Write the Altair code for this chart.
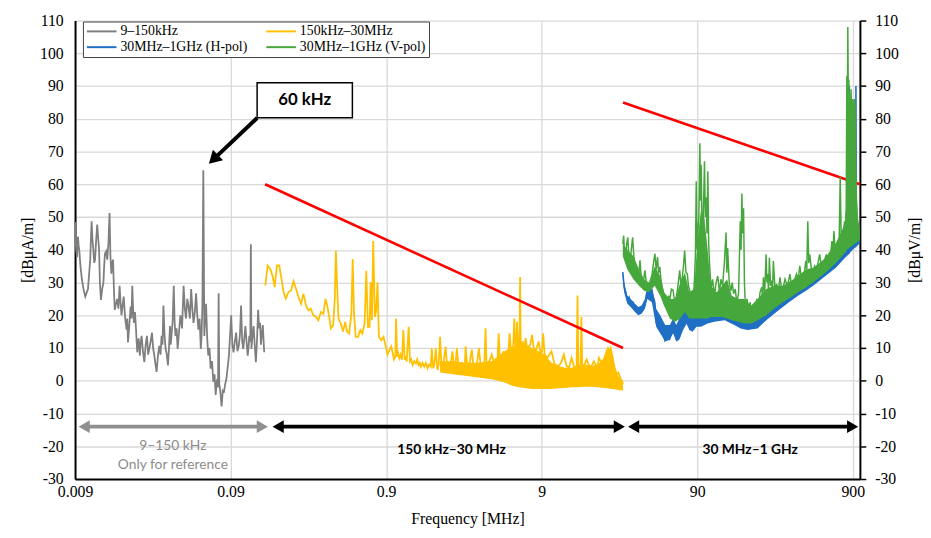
import altair as alt
import pandas as pd

# ---------------- series names / colours (legend order: column-major) ----------------
SERIES = ["9–150kHz", "30MHz–1GHz (H-pol)", "150kHz–30MHz", "30MHz–1GHz (V-pol)"]
COLORS = ["#7f7f7f", "#1f6fc5", "#ffc000", "#46a83c"]
GRAY, BLUE, YELLOW, GREEN = COLORS

# ---------------- 9–150 kHz (grey): (kHz, dB) ----------------
gray_pts = [
    (9.0, 48.5), (9.04, 43.7), (9.15, 40.0), (9.27, 37.7), (9.4, 44.0), (9.5, 41.0), (9.58, 40.0),
    (9.75, 35.0), (9.96, 31.0), (10.2, 28.0), (10.47, 25.7), (10.7, 27.0), (10.9, 28.0),
    (11.1, 33.0), (11.27, 37.0), (11.4, 44.0), (11.5, 48.7), (11.65, 43.0), (11.8, 40.0),
    (11.95, 36.0), (12.1, 37.0), (12.3, 43.0), (12.5, 47.7), (12.65, 44.0), (12.85, 40.0),
    (13.0, 30.0), (13.2, 24.7), (13.45, 28.0), (13.7, 30.0), (13.85, 35.0), (14.0, 38.7),
    (14.25, 39.5), (14.5, 37.0), (14.75, 42.0), (15.0, 51.2), (15.2, 38.0), (15.4, 32.7),
    (15.6, 36.0), (15.8, 37.0), (16.0, 28.0), (16.2, 21.7), (16.5, 23.5), (16.8, 25.0),
    (17.1, 22.0), (17.4, 29.0), (17.65, 24.0), (17.9, 20.0), (18.2, 23.0), (18.5, 25.7),
    (18.9, 19.0), (19.3, 15.6), (19.5, 19.0), (19.7, 11.7), (20.1, 17.0), (20.5, 22.7),
    (20.75, 19.0), (21.0, 29.0), (21.25, 22.0), (21.5, 17.7), (21.85, 21.0), (22.2, 15.6),
    (22.4, 12.0), (22.6, 8.7), (23.05, 13.0), (23.5, 7.7), (23.8, 12.0), (24.1, 13.7),
    (24.6, 9.0), (25.1, 5.7), (25.6, 11.0), (26.1, 13.7), (26.55, 8.0), (27.0, 9.7),
    (27.55, 12.0), (28.1, 14.7), (28.6, 10.0), (29.1, 7.7), (29.6, 5.0), (30.1, 2.7),
    (30.75, 8.0), (31.4, 10.7), (31.9, 8.0), (32.4, 13.7), (32.85, 11.0), (33.3, 23.0),
    (33.85, 14.0), (34.4, 9.7), (35.0, 8.0), (35.6, 4.7), (36.15, 10.0), (36.7, 16.7),
    (37.1, 11.0), (37.5, 13.7), (38.15, 18.0), (38.8, 29.0), (39.3, 18.0), (39.8, 13.7),
    (40.45, 16.0), (41.1, 9.7), (41.95, 15.0), (42.8, 20.0), (43.85, 16.0), (44.9, 29.0),
    (45.7, 22.0), (46.5, 19.0), (47.4, 25.0), (48.3, 22.7), (49.25, 19.0), (50.2, 28.0),
    (51.1, 22.0), (52.0, 17.7), (53.0, 21.0), (54.0, 26.7), (54.95, 20.0), (55.9, 15.6),
    (56.9, 19.0), (57.9, 9.7), (58.6, 14.0), (59.3, 23.5), (60.1, 64.3), (61.0, 13.7),
    (61.8, 19.0), (62.6, 23.5), (63.65, 13.0), (64.7, 7.7), (65.85, 10.0), (67.0, 3.7),
    (68.35, 6.0), (69.7, -0.3), (70.95, 2.0), (72.2, -4.3), (73.05, -1.0), (73.9, 0.6),
    (74.7, -2.0), (75.4, 26.7), (76.1, -1.0), (76.9, -2.3), (77.85, -5.0), (78.8, -7.8),
    (80.2, -3.0), (81.6, -3.3), (83.1, -1.0), (84.6, 0.6), (86.2, 4.0), (87.8, 7.7),
    (89.3, 14.0), (90.8, 20.0), (92.4, 11.0), (94.0, 8.7), (95.85, 12.0), (97.7, 14.7),
    (99.6, 9.0), (101.6, 10.7), (103.35, 14.0), (105.1, 23.0), (106.85, 12.0), (108.6, 9.7),
    (110.3, 13.0), (112.0, 16.7), (114.0, 12.0), (115.9, 7.7), (117.3, 10.0), (118.7, 13.7),
    (120.5, 12.0), (121.5, 41.7), (122.5, 9.7), (124.0, 13.0), (126.5, 16.7), (128.6, 11.0),
    (130.8, 5.7), (133.0, 12.0), (135.3, 21.7), (137.3, 16.0), (139.3, 17.7), (141.0, 11.0),
    (142.6, 13.7), (145.0, 17.0), (148.0, 8.7)]

# ---------------- 150 kHz–30 MHz (yellow): (MHz, dB) ----------------
yellow_mhz = [0.1505, 0.1558, 0.162, 0.1685, 0.1727, 0.1788, 0.185, 0.1905, 0.197, 0.204, 0.2121,
              0.2206, 0.2283, 0.2374, 0.2457, 0.2555, 0.2644, 0.275, 0.2846, 0.2946, 0.3064, 0.3186,
              0.3298, 0.343, 0.355, 0.3675, 0.378, 0.3875, 0.397, 0.411, 0.4211, 0.4274, 0.4359,
              0.4445, 0.46, 0.476, 0.4902, 0.505, 0.52, 0.538, 0.5486, 0.5595, 0.5735, 0.5935,
              0.614, 0.6324, 0.6545, 0.6707, 0.6874, 0.7043, 0.7149, 0.729, 0.7434, 0.7618, 0.7769,
              0.7924, 0.8081, 0.8363, 0.8654, 0.9, 0.92, 0.945, 0.97, 0.993, 1.01, 1.032, 1.042,
              1.058, 1.075, 1.095, 1.115, 1.138, 1.161, 1.184, 1.2, 1.22, 1.256, 1.281, 1.305,
              1.332, 1.365, 1.399, 1.425, 1.454, 1.48, 1.505, 1.54, 1.581, 1.62, 1.66, 1.70,
              1.744, 1.769, 1.805, 1.84, 1.877, 1.923, 1.96, 2.0, 2.04,
              2.1, 2.17, 2.22, 2.35, 2.4, 2.46, 2.52, 2.56, 2.62, 2.75, 2.88, 2.92, 2.98, 3.1,
              3.2, 3.28, 3.45, 3.55, 3.65, 3.85, 3.92, 3.98, 4.15, 4.3, 4.45, 4.68, 4.76, 4.85,
              5.0, 5.1, 5.25, 5.5, 5.6, 5.72, 5.9, 6.0, 6.1, 6.2, 6.25, 6.35, 6.48, 6.54, 6.6,
              6.8, 6.95, 7.1, 7.25, 7.6, 7.8, 8.0, 8.3, 8.6, 8.85, 9.05, 9.2, 9.4, 9.8, 10.4,
              10.9, 11.5, 12.0, 12.5, 13.0, 13.5, 14.0, 14.6, 15.1, 15.3, 15.5, 16.0, 16.2, 16.4,
              17.0, 17.5, 18.2, 18.8, 19.5, 20.2, 20.7, 21.0, 21.8, 22.8, 23.5, 24.0, 24.5, 25.0,
              25.5, 26.5, 27.3, 28.0, 29.0, 30.0]
yellow_db = [29.1, 35.2, 34.1, 31.6, 28.6, 35.2, 35.2, 31.6, 27.1, 25.1, 27.1,
             27.6, 30.4, 28.0, 25.6, 23.5, 26.6, 23.0, 21.5, 22.0, 20.0, 19.5,
             18.5, 21.0, 20.5, 25.0, 22.5, 19.5, 16.0, 17.0, 25.5, 39.7, 28.6,
             19.0, 17.5, 15.0, 18.0, 15.0, 14.4, 20.5, 37.2, 20.5, 13.4, 13.4,
             15.5, 14.4, 17.5, 33.6, 16.5, 16.5, 30.1, 18.5, 42.7, 19.5, 21.5,
             30.1, 13.4, 12.4, 13.4, 9.9, 8.0, 9.4, 10.5, 8.4, 6.5, 7.4, 19.0,
             7.4, 8.5, 6.9, 8.0, 6.4, 15.5, 6.4, 7.5, 5.9, 16.5, 5.9, 6.5,
             4.8, 6.0, 5.3, 6.5, 4.8, 5.5, 4.3, 5.5, 4.3, 5.5, 3.8, 5.0,
             4.3, 9.9, 3.8, 5.0, 9.9, 3.3, 5.0, 13.4, 4.3,
             5.0, 10.4, 4.5, 5.5, 9.0, 4.5, 5.5, 10.0, 5.0, 5.5, 4.5, 10.5, 5.0, 5.5,
             9.5, 4.0, 5.0, 10.0, 4.5, 5.0, 16.0, 5.0, 6.0, 8.0, 5.5, 6.0, 14.5, 5.5,
             7.0, 9.0, 7.0, 8.5, 14.5, 9.0, 10.0, 19.0, 10.5, 9.5, 18.0, 10.0, 10.5, 31.7, 10.0,
             12.0, 9.5, 13.0, 10.0, 11.0, 14.0, 10.0, 9.5, 12.0, 8.5, 9.0, 14.5, 8.0, 7.0, 9.0,
             5.0, 4.5, 5.5, 8.0, 4.5, 4.0, 7.0, 4.0, 4.5, 26.0, 4.5, 4.5, 19.5, 4.5,
             5.0, 6.5, 4.5, 4.5, 6.0, 4.5, 5.0, 7.0, 5.5, 7.0, 9.0, 10.0, 9.0, 10.0,
             8.0, 4.0, 2.0, 2.5, 0.5, -1.0]
yellow_band_mhz = [2.0, 2.4, 2.9, 3.5, 4.3, 5.2, 5.8, 6.4, 7.0, 7.8, 8.6, 9.4, 10.4, 11.5, 12.7,
                   14.0, 15.4, 17.0, 18.8, 20.7, 22.8, 24.0, 25.2, 26.5, 27.8, 30.0]
yellow_band_lo = [2.5, 2.0, 1.5, 1.0, 0.5, -0.5, -1.5, -2.0, -2.2, -2.5, -2.5, -2.5, -2.5, -2.3,
                  -2.2, -2.0, -2.0, -1.8, -1.8, -2.0, -2.2, -2.3, -2.5, -2.6, -2.8, -3.0]
yellow_band_hi = [6.0, 6.0, 5.5, 5.5, 6.0, 9.0, 10.5, 10.5, 11.0, 10.0, 9.0, 8.0, 5.5, 4.5,
                  4.0, 4.0, 4.5, 5.0, 4.5, 5.0, 7.0, 9.5, 9.0, 4.0, 1.5, 0.0]

# ---------------- 30 MHz–1 GHz H-pol (blue) ----------------
blue_mhz = [29.9, 30.5, 31.2, 32.0, 32.8, 33.6, 34.7, 35.8, 36.7, 37.6, 38.5, 39.5, 40.5, 41.5,
            42.6, 44, 46, 48, 49.1, 50.4, 51.7, 53.5, 55.7, 57.9, 59.9, 61.4, 62.9, 64.5, 66.1,
            67.7, 69.4, 71, 72.9, 74.7, 76.5, 78.4, 80.4, 82.4, 84.4, 86.5, 88.7, 92, 95.4, 100,
            105.3, 110, 116.1, 125, 134.5, 145, 155.8, 171, 185, 200, 220, 250, 300, 350, 400,
            450, 500, 600, 700, 800, 850, 855, 860, 900, 938, 943, 948, 1000]
blue_db = [33.2, 28.7, 27.0, 24.7, 25.5, 23.7, 24.0, 21.7, 22.5, 20.7, 21.5, 21.2, 22.0, 23.2,
           26.7, 28.0, 27.0, 24.0, 17.6, 19.0, 15.6, 17.0, 12.6, 15.0, 13.1, 16.0, 15.6, 17.0, 12.6,
           15.0, 13.5, 17.0, 16.6, 19.0, 18.5, 17.0, 16.6, 18.0, 15.6, 18.0, 17.6, 19.0, 17.1, 20.0,
           18.1, 19.5, 18.6, 20.0, 19.5, 18.5, 18.0, 16.5, 16.0, 16.5, 17.0, 19.0, 22.0, 24.5, 26.5,
           28.0, 29.5, 32.5, 35.0, 38.0, 39.0, 90.0, 40.0, 41.0, 41.0, 90.0, 41.5, 42.5]
blue_band_mhz = [29.9, 30.5, 32, 33.6, 35.8, 37.6, 39.5, 41.5, 43, 46, 49, 52, 56, 60, 63, 66, 69,
                 73, 77, 80, 84, 89, 95, 105, 116, 135, 156, 171, 190, 220, 250, 300, 350, 400,
                 450, 500, 600, 700, 800, 860, 900, 950, 1000]
blue_band_lo = [31, 27, 23.5, 22.5, 21, 20, 20.5, 22, 25, 24, 16.5, 14.5, 12, 12.5, 14.5, 12, 12.5,
                15.5, 17.5, 15.5, 15, 16.5, 16.5, 17.5, 18, 18.5, 17, 16, 15.5, 16, 18.5, 21.5, 24,
                26, 27.5, 29, 32, 34.5, 37.5, 39, 40, 41, 42]
blue_band_hi = [33.5, 30, 26, 25, 23.5, 22.5, 23, 25, 28.5, 29, 22, 20, 17, 17, 19, 17, 19,
                21, 23, 21, 19, 21, 22, 22, 21.5, 21, 20, 19, 18.5, 19, 21.5, 24.5, 27,
                29, 30.5, 32, 35, 38, 41, 50, 55, 50, 44]

# ---------------- 30 MHz–1 GHz V-pol (green): (MHz, dB) ----------------
green_pts = [
    (29.9, 41.8), (30.3, 44.3), (30.7, 39.0), (31.2, 37.8), (31.7, 42.0), (32.2, 43.8),
    (32.7, 38.0), (33.3, 35.8), (33.9, 40.0), (34.6, 43.8), (35.2, 38.0), (35.8, 35.8),
    (36.5, 34.0), (37.3, 30.7), (37.9, 33.0), (38.6, 36.8), (39.2, 32.0), (39.9, 28.7),
    (40.7, 31.0), (41.5, 33.7), (42.3, 30.0), (43.2, 27.7), (43.9, 30.0), (44.7, 28.7),
    (45.4, 31.0), (46.2, 32.7), (47.1, 36.0), (48.1, 38.8), (49.0, 34.0), (50.0, 37.8),
    (50.8, 33.0), (51.7, 34.8), (52.6, 31.0), (53.5, 28.7), (54.6, 27.0), (55.7, 25.7),
    (56.8, 24.0), (57.9, 23.7), (58.9, 26.0), (59.9, 24.7), (61.4, 28.0), (62.9, 27.7),
    (64.5, 24.0), (66.1, 25.7), (67.7, 29.0), (69.4, 33.7), (70.8, 29.0), (72.2, 31.7),
    (73.4, 35.0), (74.7, 39.8), (76.2, 33.0), (77.7, 32.7), (79.0, 29.0), (80.4, 27.7),
    (82.4, 25.0), (84.4, 23.7), (85.4, 27.0), (86.5, 31.7), (87.6, 38.0), (88.7, 60.9),
    (89.8, 40.0), (90.9, 45.7), (92.2, 50.0), (93.6, 72.5), (94.5, 55.0), (95.4, 66.0),
    (96.6, 48.0), (97.8, 45.7), (99.0, 55.0), (100.2, 67.0), (101.4, 50.0), (102.7, 56.0),
    (104.0, 45.0), (105.3, 64.0), (106.6, 42.0), (107.9, 36.0), (110.5, 28.0), (113, 31),
    (116.1, 26.0), (119, 30), (122, 32.0), (125, 27), (128, 31.0), (131, 29), (134.5, 36.0),
    (137.8, 45.3), (139.5, 33), (141.2, 40.5), (144.5, 30), (148.3, 27.5), (151, 30),
    (154.3, 26.6), (158, 28), (162, 23.5), (166, 27), (170.2, 48.7), (172.2, 40),
    (174.3, 57.2), (176.5, 45), (178.7, 52.7), (181, 30), (183.2, 23.5), (188, 25),
    (192.4, 20.5), (197, 24), (202, 18.5), (207, 23), (212.1, 20.5), (217, 25), (222.8, 22.5),
    (228, 27), (234, 28.6), (236.8, 24), (239.7, 31.6), (244.5, 27), (249.4, 38.6),
    (252.5, 30), (255.5, 32.6), (258.6, 27), (261.8, 37.6), (266.4, 29), (271, 30.6),
    (274.3, 27), (277.7, 36.6), (284.7, 28), (291.7, 29.6), (299, 27), (306.3, 31.6),
    (314, 28), (321.7, 28.6), (329.8, 31), (337.9, 29.6), (346.3, 30), (354.7, 32.6),
    (363.6, 29), (372.6, 29.6), (381.9, 31), (391.2, 32.6), (401, 31), (410.9, 35.1),
    (421.3, 31), (431.7, 31.6), (440.2, 33), (448.8, 36.6), (455.5, 34), (462.3, 48.7),
    (469, 36), (476, 38.6), (488, 34), (499.9, 32.6), (512.4, 35), (525, 34.1), (538, 36),
    (551.3, 38.6), (565, 35), (579, 35.6), (593.6, 37), (608.2, 38.6), (623.4, 36),
    (638.6, 36.6), (650, 39), (661, 42.7), (671, 38), (680.6, 45.7), (692.5, 40),
    (704.3, 39.6), (713, 41), (722.2, 42.7), (735, 41), (747.2, 62.3), (758, 44),
    (769.4, 45.7), (783, 44), (796.2, 48.7), (806, 47), (816.1, 52.7), (820, 70),
    (824.1, 93.0), (830, 80), (836.3, 108.0), (842, 88), (848.7, 92.0), (856, 80),
    (865.4, 71.0), (872, 85), (878.3, 89.0), (885, 80), (891.2, 79.0), (900, 86),
    (909, 64.8), (915, 80), (922.5, 86.0), (929, 84), (936, 70.0), (945, 60), (954.5, 52.7),
    (968.6, 44.7), (983, 42.7)]
green_band_mhz = [29.9, 32, 35, 38, 41, 44, 48, 52, 55, 60, 65, 70, 75, 80, 86, 90, 95, 100, 105,
                  110, 120, 130, 140, 150, 165, 180, 200, 220, 250, 280, 320, 360, 400, 450, 500,
                  550, 600, 650, 700, 750, 800, 816, 824, 850, 880, 910, 935, 950, 970, 1000]
green_band_lo = [38, 34, 31, 29, 27.5, 27, 29, 26, 23, 19, 18, 19, 21, 19, 19, 19, 19, 19, 19,
                 19.5, 19.5, 19.5, 19, 18.5, 18, 17.5, 17.5, 18.5, 20, 22, 24, 25.5, 27, 28.5, 30,
                 31.5, 33, 34.5, 36, 37.5, 39, 39.5, 40, 40.5, 41, 41.5, 42, 42, 42.5, 43]
green_band_hi = [42, 40, 38, 34, 31, 30, 35, 32, 27, 25, 25, 30, 33, 27, 28, 42, 52, 50, 40,
                 29, 27, 29, 31, 26, 25, 25, 23, 25, 28, 29, 29, 30.5, 32, 34, 34.5,
                 36, 37.5, 40, 42, 45, 48, 52, 80, 88, 85, 80, 84, 58, 50, 46]

# ---------------- limit lines (red) ----------------
limit_seg = ["150kHz-30MHz", "150kHz-30MHz", "30MHz-1GHz", "30MHz-1GHz"]
limit_mhz = [0.15, 30.0, 30.0, 1000.0]
limit_db = [60, 10, 85, 60]

x_ticks = [0.009, 0.09, 0.9, 9, 90, 900]
y_ticks = [-30, -20, -10, 0, 10, 20, 30, 40, 50, 60, 70, 80, 90, 100, 110]

# ---------------- frames ----------------
gray_df = pd.DataFrame(gray_pts, columns=["khz", "v"])
gray_df["f"] = gray_df["khz"] / 1000.0
gray_df["series"] = SERIES[0]
yellow_df = pd.DataFrame({"f": yellow_mhz, "v": yellow_db, "series": SERIES[2]})
blue_df = pd.DataFrame({"f": blue_mhz, "v": blue_db, "series": SERIES[1]})
green_df = pd.DataFrame(green_pts, columns=["f", "v"])
green_df["series"] = SERIES[3]
yband_df = pd.DataFrame({"f": yellow_band_mhz, "lo": yellow_band_lo, "hi": yellow_band_hi})
bband_df = pd.DataFrame({"f": blue_band_mhz, "lo": blue_band_lo, "hi": blue_band_hi})
gband_df = pd.DataFrame({"f": green_band_mhz, "lo": green_band_lo, "hi": green_band_hi})
limit_df = pd.DataFrame({"f": limit_mhz, "v": limit_db, "seg": limit_seg})

# annotations (data coordinates)
box_df = pd.DataFrame({"f1": [0.1333], "f2": [0.546], "v1": [80.3], "v2": [91.0]})
box_txt_df = pd.DataFrame({"f": [0.27], "v": [85.7], "t": ["60 kHz"]})
pointer_df = pd.DataFrame({"f": [0.1333, 0.0698], "v": [80.25, 67.6]})
pointer_head_df = pd.DataFrame({"f": [0.0698], "v": [67.6]})
shaft_df = pd.DataFrame({"f1": [0.0103, 0.182, 35.1], "f2": [0.144, 28.4, 898.0],
                         "v": [-14, -14, -14], "c": ["#8f8f8f", "#000000", "#000000"]})
heads_df = pd.DataFrame({"f": [0.0103, 0.144, 0.182, 28.4, 35.1, 898.0],
                         "v": [-14] * 6,
                         "s": ["triangle-left", "triangle-right"] * 3,
                         "c": ["#8f8f8f", "#8f8f8f", "#000000", "#000000", "#000000", "#000000"]})
grey_lbl_df = pd.DataFrame({"f": [0.0383, 0.0383], "v": [-20.0, -25.6],
                            "t": ["9–150 kHz", "Only for reference"]})
band_lbl_df = pd.DataFrame({"f": [2.37, 197.0], "v": [-21.3, -21.0],
                            "t": ["150 kHz–30 MHz", "30 MHz–1 GHz"]})

SERIF = "Liberation Serif"
SANS = "Lato"

xs = alt.Scale(type="log", domain=[0.009, 1000], nice=False)
ys = alt.Scale(domain=[-30, 110], nice=False, zero=False)

x_ax = alt.Axis(values=x_ticks, labelExpr="'' + datum.value", title="Frequency [MHz]",
                grid=True, gridColor="#d9d9d9", gridWidth=1.3, domainColor="#000000",
                domainWidth=2, ticks=False, labelFont=SERIF, labelFontSize=16,
                labelColor="#000000", labelPadding=5, labelFlush=False, titleFont=SERIF,
                titleFontSize=16, titleFontWeight="normal", titleColor="#000000",
                titlePadding=11)
yl_ax = alt.Axis(values=y_ticks, labelExpr="'' + datum.value", title="[dBμA/m]", orient="left",
                 grid=True, gridColor="#d9d9d9", gridWidth=1.3, domainColor="#000000",
                 domainWidth=2, ticks=False, labelFont=SERIF, labelFontSize=16,
                 labelColor="#000000", labelPadding=12, titleFont=SERIF, titleFontSize=16,
                 titleFontWeight="normal", titleColor="#000000", titlePadding=4)
yr_ax = alt.Axis(values=y_ticks, labelExpr="'' + datum.value", title="[dBμV/m]", orient="right",
                 grid=False, domainColor="#000000", domainWidth=2, ticks=True, tickSize=6,
                 tickWidth=1.5, tickColor="#000000", labelFont=SERIF, labelFontSize=16,
                 labelColor="#000000", labelPadding=9, titleFont=SERIF, titleFontSize=16,
                 titleFontWeight="normal", titleColor="#000000", titlePadding=8,
                 titleAngle=270, titleBaseline="top")

X = alt.X("f:Q", scale=xs, axis=x_ax)
Y = alt.Y("v:Q", scale=ys, axis=yl_ax)

legend = alt.Legend(title=None, orient="none", legendX=8, legendY=1, columns=2,
                    symbolType="M-1,0H4", symbolSize=144, symbolStrokeWidth=2,
                    labelFont=SERIF, labelFontSize=14, labelColor="#000000", labelOffset=21,
                    columnPadding=15, rowPadding=2, padding=3, strokeColor="#404040",
                    fillColor="#ffffff", labelLimit=400)
col = alt.Color("series:N", scale=alt.Scale(domain=SERIES, range=COLORS), legend=legend)


def line_layer(df, w):
    return alt.Chart(df).mark_line(strokeWidth=w).encode(x=X, y=Y, color=col)


def band_layer(df, c):
    return alt.Chart(df).mark_area(color=c, opacity=1).encode(
        x=X, y=alt.Y("lo:Q", scale=ys, axis=yl_ax), y2="hi:Q")


gray_l = line_layer(gray_df, 1.8)
yellow_a = band_layer(yband_df, YELLOW)
yellow_l = line_layer(yellow_df, 1.8)
limits = alt.Chart(limit_df).mark_line(color="#ff0000", strokeWidth=2.6).encode(
    x=X, y=Y, detail="seg:N")
blue_a = band_layer(bband_df, BLUE)
blue_l = line_layer(blue_df, 1.6)
green_a = band_layer(gband_df, GREEN)
green_l = line_layer(green_df, 1.5)

box = alt.Chart(box_df).mark_rect(fill="#ffffff", stroke="#000000", strokeWidth=1.5).encode(
    x=alt.X("f1:Q", scale=xs, axis=x_ax), x2="f2:Q",
    y=alt.Y("v1:Q", scale=ys, axis=yl_ax), y2="v2:Q")
box_txt = alt.Chart(box_txt_df).mark_text(font=SANS, fontSize=17, fontWeight="bold",
                                          color="#000000").encode(x=X, y=Y, text="t:N")
pointer = alt.Chart(pointer_df).mark_line(color="#000000", strokeWidth=4).encode(x=X, y=Y)
pointer_head = alt.Chart(pointer_head_df).mark_point(
    shape="triangle-up", filled=True, size=220, angle=226, color="#000000", opacity=1
).encode(x=X, y=Y)
shafts = alt.Chart(shaft_df).mark_rule(strokeWidth=4).encode(
    x=alt.X("f1:Q", scale=xs, axis=x_ax), x2="f2:Q", y=Y,
    color=alt.Color("c:N", scale=None))
heads = alt.Chart(heads_df).mark_point(filled=True, size=170, opacity=1).encode(
    x=X, y=Y, shape=alt.Shape("s:N", scale=None), color=alt.Color("c:N", scale=None))
grey_lbl = alt.Chart(grey_lbl_df).mark_text(font=SANS, fontSize=14, color="#8c8c8c").encode(
    x=X, y=Y, text="t:N")
band_lbl = alt.Chart(band_lbl_df).mark_text(font=SANS, fontSize=14, fontWeight="bold",
                                            color="#000000").encode(x=X, y=Y, text="t:N")

main = alt.layer(gray_l, yellow_a, yellow_l, limits, blue_a, blue_l, green_a, green_l,
                 pointer, pointer_head, box, box_txt, shafts, heads, grey_lbl, band_lbl)

right = alt.Chart(limit_df).mark_line(opacity=0).encode(
    x=X, y=alt.Y("v:Q", scale=ys, axis=yr_ax), detail="seg:N")

chart = alt.layer(main, right).resolve_scale(y="independent").properties(
    width=796, height=465,
    padding={"left": 12, "top": 1, "right": 1, "bottom": 2},
).configure_view(stroke=None).configure_axis(
    labelFont=SERIF, titleFont=SERIF, labelFontSize=16, titleFontSize=16,
    titleFontWeight="normal", labelColor="#000000", titleColor="#000000"
).configure_legend(labelFont=SERIF)

chart.save("out.html", embed_options={"renderer": "svg", "actions": False})
